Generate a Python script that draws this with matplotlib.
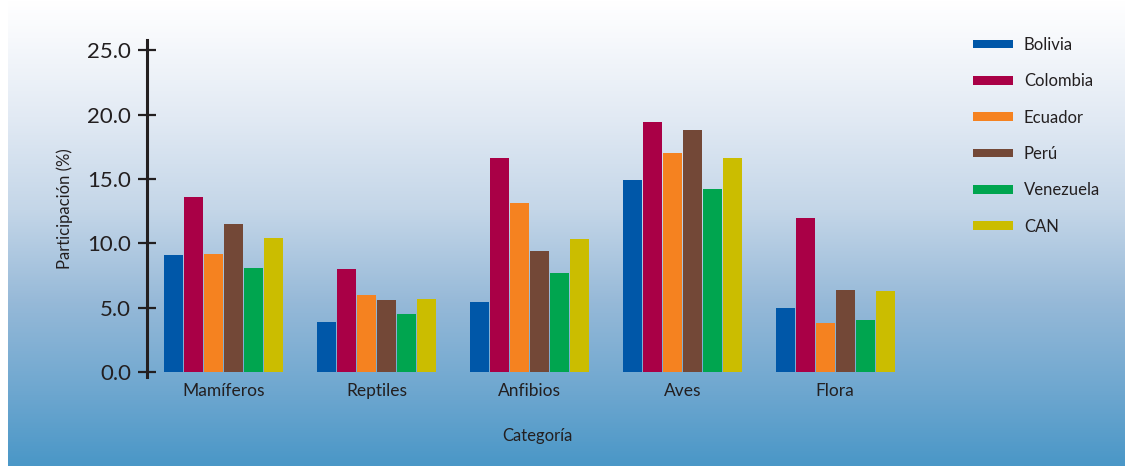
import numpy as np
import matplotlib
matplotlib.use('Agg')
import matplotlib.pyplot as plt
from matplotlib.colors import LinearSegmentedColormap

plt.rcParams['font.family'] = ['Lato', 'DejaVu Sans']

categorias = ['Mamíferos', 'Reptiles', 'Anfibios', 'Aves', 'Flora']
paises = ['Bolivia', 'Colombia', 'Ecuador', 'Perú', 'Venezuela', 'CAN']
colores = ['#0057a8', '#a90046', '#f58220', '#734837', '#00a54f', '#cbbd00']

bolivia = [9.1, 3.9, 5.4, 14.9, 5.0]
colombia = [13.6, 8.0, 16.6, 19.4, 12.0]
ecuador = [9.2, 6.0, 13.1, 17.0, 3.8]
peru = [11.5, 5.6, 9.4, 18.8, 6.4]
venezuela = [8.1, 4.5, 7.7, 14.2, 4.0]
can = [10.4, 5.7, 10.3, 16.6, 6.3]
series = [bolivia, colombia, ecuador, peru, venezuela, can]

fig = plt.figure(figsize=(11.25, 4.66), dpi=100)

# fondo degradado
bg = fig.add_axes([8 / 1125, 0, 1 - 8 / 1125, 1], zorder=-1)
cmap = LinearSegmentedColormap.from_list(
    'fondo', [(0.0, '#ffffff'), (0.08, '#f7f9fc'), (0.25, '#e2eaf4'),
              (0.45, '#c4d6e8'), (0.65, '#96b9d8'), (0.85, '#6ca6cf'),
              (1.0, '#4a97c7')])
grad = np.linspace(0, 1, 256).reshape(-1, 1)
bg.imshow(grad, aspect='auto', cmap=cmap, extent=[0, 1, 1, 0])
bg.axis('off')

ax = fig.add_axes([147 / 1125, 1 - 377 / 466, (927 - 147) / 1125, (377 - 40) / 466])
ax.patch.set_alpha(0)

x = np.arange(len(categorias))
w = 0.1307
for i, (vals, c, lab) in enumerate(zip(series, colores, paises)):
    ax.bar(x + (i - 2.5) * w, vals, width=w - 0.008, color=c, label=lab)

ax.set_xlim(-0.5, 4.6)
ax.set_ylim(-0.4, 25.8)
ax.set_yticks([0, 5, 10, 15, 20, 25])
ax.set_yticklabels(['0.0', '5.0', '10.0', '15.0', '20.0', '25.0'])
ax.set_xticks(x)
ax.set_xticklabels(categorias)

for s in ['top', 'right', 'bottom']:
    ax.spines[s].set_visible(False)
ax.spines['left'].set_linewidth(2.2)
ax.spines['left'].set_color('#231f20')
ax.tick_params(axis='y', direction='inout', length=13, width=1.6, color='#231f20',
               labelsize=16, labelcolor='#231f20', pad=5)
ax.tick_params(axis='x', length=0, labelsize=12.5, labelcolor='#231f20', pad=4)

ax.set_ylabel('Participación (%)', fontsize=12, color='#231f20', labelpad=10)
ax.set_xlabel('Categoría', fontsize=12, color='#231f20', labelpad=21)

leg = fig.legend(loc='upper left', bbox_to_anchor=(958 / 1125, 1 - 22 / 466),
                 frameon=False, fontsize=12, handlelength=2.4, handleheight=0.4,
                 handletextpad=0.65, labelspacing=1.22)
for t in leg.get_texts():
    t.set_color('#231f20')

fig.savefig('out.png', dpi=100)
